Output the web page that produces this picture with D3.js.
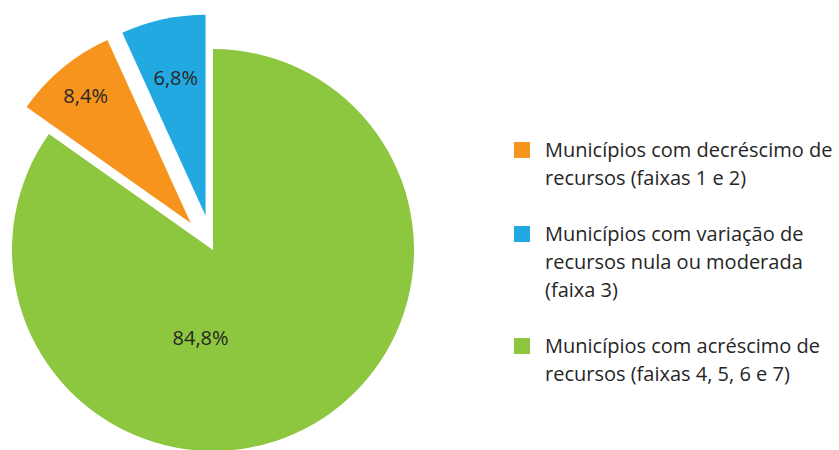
<!DOCTYPE html>
<html>
<head>
<meta charset="utf-8">
<script src="https://cdn.jsdelivr.net/npm/d3@7"></script>
<style>
  body { margin: 0; background: #fff; }
  text { font-family: "Open Sans", sans-serif; fill: #262626; }
</style>
</head>
<body>
<div id="chart-area"></div>
<script>
// legend order
const categories = [
  ["Municípios com decréscimo de", "recursos (faixas 1 e 2)"],
  ["Municípios com variação de", "recursos nula ou moderada", "(faixa 3)"],
  ["Municípios com acréscimo de", "recursos (faixas 4, 5, 6 e 7)"]
];
const values = [8.4, 6.8, 84.8];
const labels = ["8,4%", "6,8%", "84,8%"];
const colors = ["#F7941D", "#23A9E1", "#8DC63F"];

const WIDTH = 839, HEIGHT = 450;
const CX = 213, CY = 250, R = 201;
const EXPLODE = [35, 35, 0];

const svg = d3.select("#chart-area").append("svg")
  .attr("width", WIDTH)
  .attr("height", HEIGHT);

const g = svg.append("g")
  .attr("transform", `translate(${CX}, ${CY})`);

// green starts at 12 o'clock, so orange+blue fill the last 15.2%
const startA = 2 * Math.PI * (1 - (values[0] + values[1]) / d3.sum(values));
const pie = d3.pie().sort(null).value(d => d)
  .startAngle(startA).endAngle(startA + 2 * Math.PI);
const arcs = pie(values);

const arc = d3.arc().innerRadius(0).outerRadius(R);

function shift(d, i) {
  const a = (d.startAngle + d.endAngle) / 2;
  return [Math.sin(a) * EXPLODE[i], -Math.cos(a) * EXPLODE[i]];
}

g.selectAll("path.slice")
  .data(arcs)
  .join("path")
  .attr("class", "slice")
  .attr("fill", (d, i) => colors[i])
  .attr("transform", (d, i) => `translate(${shift(d, i)})`)
  .attr("d", arc);

// label placement: fraction of radius along the slice, green label sits near the centre
const labelR = [0.82, 0.70, 0.44];
function labelPos(d, i) {
  let a = (d.startAngle + d.endAngle) / 2;
  if (i === 2) a = Math.PI * 1.045;
  const s = shift(d, i);
  return [s[0] + Math.sin(a) * R * labelR[i], s[1] - Math.cos(a) * R * labelR[i]];
}

g.selectAll("text.lbl")
  .data(arcs)
  .join("text")
  .attr("class", "lbl")
  .attr("transform", (d, i) => `translate(${labelPos(d, i)})`)
  .attr("text-anchor", "middle")
  .attr("dy", "0.35em")
  .style("font-size", "20px")
  .text((d, i) => labels[i]);

// legend
const legendTop = [142, 226, 338];
const legend = svg.append("g").attr("transform", "translate(514, 0)");
const items = legend.selectAll("g")
  .data(categories)
  .join("g")
  .attr("transform", (d, i) => `translate(0, ${legendTop[i]})`);

items.append("rect")
  .attr("width", 16)
  .attr("height", 16)
  .attr("fill", (d, i) => colors[i]);

items.append("text")
  .attr("x", 31)
  .style("font-size", "20px")
  .selectAll("tspan")
  .data(d => d)
  .join("tspan")
  .attr("x", 31)
  .attr("y", (d, j) => 15 + j * 28)
  .text(d => d);
</script>
</body>
</html>
